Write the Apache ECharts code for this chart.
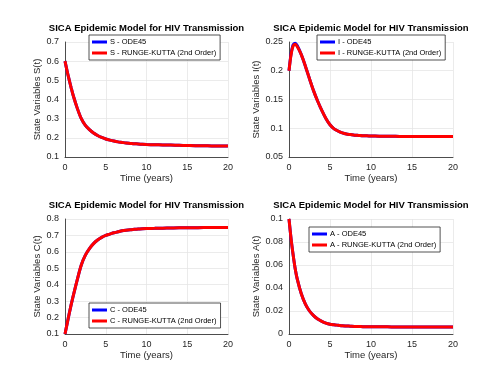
<!DOCTYPE html>
<html>
<head>
<meta charset="utf-8">
<script src="https://cdn.jsdelivr.net/npm/echarts@6/dist/echarts.min.js"></script>
<style>
  html, body { margin: 0; padding: 0; background: #fff; }
  #chart { width: 501px; height: 376px; }
</style>
</head>
<body>
<div id="chart"></div>
<script>
// time points (years)
var timeArr = [0, 0.25, 0.5, 0.75, 1, 1.5, 2, 2.5, 3, 3.5, 4, 4.5, 5, 5.5, 6, 6.5, 7, 7.5, 8, 8.5, 9, 9.5, 10,
  11, 12, 13, 14, 15, 16, 17, 18, 19, 20];

// ODE45 solution
var sOde = [0.6, 0.55, 0.505, 0.462, 0.422, 0.355, 0.30, 0.265, 0.243, 0.225, 0.212, 0.202, 0.194, 0.188, 0.183, 0.179, 0.176, 0.173, 0.171, 0.169, 0.168, 0.166, 0.165,
  0.164, 0.163, 0.162, 0.161, 0.160, 0.159, 0.159, 0.158, 0.158, 0.157];
var iOde = [0.2, 0.229, 0.245, 0.248, 0.244, 0.228, 0.208, 0.186, 0.165, 0.147, 0.131, 0.117, 0.106, 0.099, 0.095, 0.092, 0.09, 0.089, 0.088, 0.0875, 0.087, 0.0868, 0.0866,
  0.0863, 0.086, 0.0859, 0.0858, 0.0858, 0.0857, 0.0856, 0.0856, 0.0855, 0.0855];
var cOde = [0.1, 0.16, 0.22, 0.277, 0.33, 0.43, 0.52, 0.58, 0.62, 0.65, 0.672, 0.688, 0.70, 0.708, 0.716, 0.722, 0.728, 0.732, 0.735, 0.737, 0.739, 0.741, 0.742,
  0.743, 0.744, 0.745, 0.746, 0.746, 0.747, 0.748, 0.748, 0.749, 0.749];
var aOde = [0.1, 0.083, 0.069, 0.057, 0.048, 0.035, 0.026, 0.02, 0.016, 0.013, 0.011, 0.0095, 0.0085, 0.008, 0.0076, 0.0072, 0.007, 0.0068, 0.0066, 0.0065, 0.0064, 0.0063, 0.0063,
  0.0062, 0.0062, 0.0061, 0.0061, 0.0061, 0.006, 0.006, 0.006, 0.006, 0.006];

// RK2 solution (visually identical to ODE45, peak of I a bit lower)
var sRk = sOde.slice();
var iRk = [0.2, 0.228, 0.243, 0.246, 0.242, 0.228, 0.208, 0.186, 0.165, 0.147, 0.131, 0.117, 0.106, 0.099, 0.095, 0.092, 0.09, 0.089, 0.088, 0.0875, 0.087, 0.0868, 0.0866,
  0.0863, 0.086, 0.0859, 0.0858, 0.0858, 0.0857, 0.0856, 0.0856, 0.0855, 0.0855];
var cRk = cOde.slice();
var aRk = aOde.slice();

var varNames = ['S', 'I', 'C', 'A'];
var odeData = [sOde, iOde, cOde, aOde];
var rkData = [sRk, iRk, cRk, aRk];
var yMin = [0.1, 0.05, 0.1, 0];
var yMax = [0.7, 0.25, 0.8, 0.1];
var yStep = [0.1, 0.05, 0.1, 0.02];

var FONT = 'Liberation Sans';

var grids = [
  { left: 65, top: 42, width: 163, height: 115 },
  { left: 289, top: 42, width: 164, height: 115 },
  { left: 65, top: 219, width: 163, height: 115 },
  { left: 289, top: 219, width: 164, height: 115 }
];
var legendPos = [
  { left: 89, top: 35 },
  { left: 317, top: 35 },
  { left: 89, top: 303 },
  { left: 309, top: 227 }
];

function pairs(vals) {
  return timeArr.map(function (t, i) { return [t, vals[i]]; });
}

var titles = [], xAxes = [], yAxes = [], series = [], legends = [];
grids.forEach(function (g, k) {
  titles.push({
    text: 'SICA Epidemic Model for HIV Transmission',
    left: g.left + g.width / 2,
    top: g.top - 19,
    padding: 0,
    textAlign: 'center',
    textStyle: { fontFamily: FONT, fontSize: 9.5, fontWeight: 'bold', color: '#000' }
  });
  xAxes.push({
    gridIndex: k, type: 'value', min: 0, max: 20, interval: 5,
    name: 'Time (years)', nameLocation: 'middle', nameGap: 16,
    nameTextStyle: { fontFamily: FONT, fontSize: 9.5, color: '#262626' },
    axisLine: { lineStyle: { color: '#262626', width: 0.8 } },
    axisTick: { show: false },
    axisLabel: { fontFamily: FONT, fontSize: 9, color: '#262626', margin: 6 },
    splitLine: { lineStyle: { color: '#e6e6e6', width: 0.8 } }
  });
  yAxes.push({
    gridIndex: k, type: 'value', min: yMin[k], max: yMax[k], interval: yStep[k],
    name: 'State Variables ' + varNames[k] + '(t)', nameLocation: 'middle',
    nameGap: k % 2 === 0 ? 22 : 27,
    nameTextStyle: { fontFamily: FONT, fontSize: 9.5, color: '#262626' },
    axisLine: { show: true, lineStyle: { color: '#262626', width: 0.8 } },
    axisTick: { show: false },
    axisLabel: { fontFamily: FONT, fontSize: 9, color: '#262626', margin: 6 },
    splitLine: { lineStyle: { color: '#e6e6e6', width: 0.8 } }
  });
  var n1 = varNames[k] + ' - ODE45';
  var n2 = varNames[k] + ' - RUNGE-KUTTA (2nd Order)';
  series.push({
    name: n1, type: 'line', xAxisIndex: k, yAxisIndex: k,
    data: pairs(odeData[k]), smooth: 0.3, showSymbol: false,
    lineStyle: { color: '#0000ff', width: 3 }, itemStyle: { color: '#0000ff' }
  });
  series.push({
    name: n2, type: 'line', xAxisIndex: k, yAxisIndex: k,
    data: pairs(rkData[k]), smooth: 0.3, showSymbol: false,
    lineStyle: { color: '#ff0000', width: 3 }, itemStyle: { color: '#ff0000' }
  });
  legends.push({
    data: [n1, n2],
    orient: 'vertical',
    left: legendPos[k].left, top: legendPos[k].top,
    backgroundColor: '#fff',
    borderColor: '#262626', borderWidth: 0.8,
    padding: [3, 4, 3, 3],
    itemGap: 3,
    itemWidth: 15, itemHeight: 3,
    icon: 'rect',
    textStyle: { fontFamily: FONT, fontSize: 7.5, color: '#000', padding: [0, 0, 0, -2] }
  });
});

var chart = echarts.init(document.getElementById('chart'));
chart.setOption({
  animation: false,
  title: titles,
  legend: legends,
  grid: grids,
  xAxis: xAxes,
  yAxis: yAxes,
  series: series
});
</script>
</body>
</html>
